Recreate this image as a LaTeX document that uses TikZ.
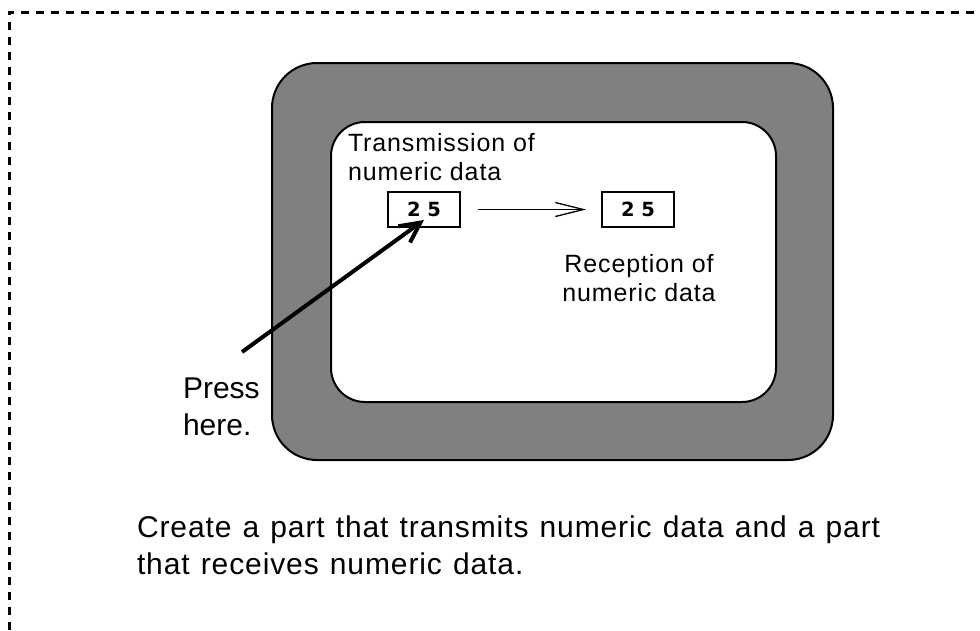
\documentclass[tikz,border=0pt]{standalone}
\usepackage{fontspec}
\setmainfont{Liberation Sans}
\newfontfamily\labelfont[LetterSpace=3.5]{Liberation Sans}
\newfontfamily\captionfont[LetterSpace=3, WordSpace=1.2]{Liberation Sans}
\newfontfamily\digitfont{DejaVu Sans}
\usetikzlibrary{positioning,arrows.meta}

\begin{document}
\begin{tikzpicture}[x=1pt, y=-1pt, >={Straight Barb[length=28pt, width=14pt]},
            every node/.style={inner sep=0pt, outer sep=0pt},
            numbox/.style={draw, line width=1.3pt, minimum width=72pt, minimum height=35pt, font=\digitfont\bfseries\fontsize{19.5}{24}\selectfont},
            smalltext/.style={font=\labelfont\fontsize{25}{29}\selectfont},
            bigtext/.style={font=\captionfont\fontsize{30}{37}\selectfont}]
            \useasboundingbox (0,0) rectangle (980,630);

            % Dashed frame (open on the right and at the bottom)
            \draw[line width=3pt, dash pattern=on 8pt off 7pt] (9,630) -- (9,12) -- (980,12);

            % Device: grey body and white screen
            \node[draw, fill=black!50, line width=2pt, rounded corners=45pt, minimum width=561pt, minimum height=397pt] (body) at (552.5,261.5) {};
            \node[draw, fill=white, line width=2pt, rounded corners=34pt, minimum width=445pt, minimum height=280pt] (screen) at (553.5,262) {};

            % Number boxes
            \node[numbox] (send) at (424,209.5) {2 5};
            \node[numbox] (recv) at (638,209.5) {2 5};
            \draw[->, line width=1.3pt, shorten <=18pt, shorten >=16pt] (send) -- (recv);

            % Labels on the screen
            \node[smalltext, anchor=north west, align=left] (sendlabel) at (348,133.8) {Transmission of\\numeric data};
            \node[smalltext, anchor=north, align=center] (recvlabel) at (639,254.8) {Reception of\\numeric data};

            % Press here
            \node[font=\fontsize{30}{37}\selectfont, anchor=north west, align=left] (press) at (183,378.2) {Press\\here.};
            \coordinate (pressfrom) at (242,352);
            \coordinate (presstip) at (424,220);
            \draw[-{Straight Barb[length=20pt, width=20pt]}, line width=4pt] (pressfrom) -- (presstip);

            % Caption
            \node[bigtext, anchor=north west, align=left] (caption) at (137,516.2) {Create a part that transmits numeric data and a part\\that receives numeric data.};
        \end{tikzpicture}
\end{document}
